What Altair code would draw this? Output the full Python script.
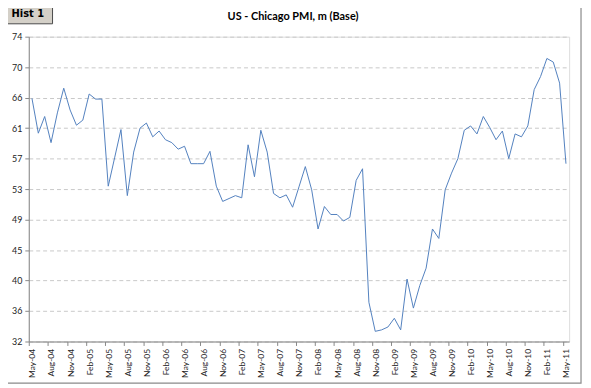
import altair as alt
import pandas as pd

# Monthly Chicago PMI, May 2004 .. May 2011
months = [d.strftime("%b-%y") for d in pd.date_range("2004-05-01", "2011-05-01", freq="MS")]
values = [
    65.5, 60.7, 63.0, 59.4, 63.5, 66.9, 63.9, 61.8, 62.5, 66.1, 65.4, 65.4,   # May04-Apr05
    53.4, 57.3, 61.2, 52.1, 58.1, 61.4, 62.1, 60.2, 61.0, 59.8, 59.4, 58.5,   # May05-Apr06
    58.9, 56.5, 56.5, 56.5, 58.2, 53.4, 51.3, 51.7, 52.1, 51.8, 59.1, 54.7,   # May06-Apr07
    61.1, 58.1, 52.4, 51.8, 52.2, 50.5, 53.3, 56.1, 52.9, 47.5, 50.6, 49.5,   # May07-Apr08
    49.5, 48.6, 49.1, 54.2, 55.8, 37.4, 33.4, 33.6, 34.0, 35.2, 33.6, 40.6,   # May08-Apr09
    36.6, 39.7, 42.1, 47.5, 46.2, 52.9, 55.2, 57.2, 61.1, 61.7, 60.6, 63.0,   # May09-Apr10
    61.5, 59.8, 61.0, 57.2, 60.6, 60.2, 61.7, 66.7, 68.5, 71.0, 70.5, 67.6,   # May10-Apr11
    56.5,                                                                     # May11
]
y_ticks = [32 + 4.2 * k for k in range(11)]
x_ticks = months[::3]
title = "US - Chicago PMI, m (Base)"
tab_label = "Hist 1"

df = pd.DataFrame({"month": months, "value": values})

W, H = 546, 308
FONT = "Lato"

line = alt.Chart(df).mark_line(color="#5281be", strokeWidth=1).encode(
    x=alt.X(
        "month:O",
        sort=None,
        scale=alt.Scale(paddingInner=0, paddingOuter=0),
        axis=alt.Axis(
            values=x_ticks,
            title=None,
            labelAngle=270,
            labelAlign="right",
            labelBaseline="middle",
            labelFont=FONT,
            labelFontSize=8.5,
            labelColor="#222222",
            labelPadding=3,
            tickOffset=-3.2,
            labelOffset=3.2,
            tickSize=4,
            tickColor="#888888",
            domainColor="#888888",
            grid=False,
        ),
    ),
    y=alt.Y(
        "value:Q",
        scale=alt.Scale(domain=[32, 74], nice=False, zero=False),
        axis=alt.Axis(
            values=y_ticks,
            format=".0f",
            title=None,
            labelFont=FONT,
            labelFontSize=9,
            labelColor="#222222",
            labelPadding=3,
            tickSize=4,
            tickColor="#888888",
            domainColor="#888888",
            grid=True,
            gridColor="#c8c8c8",
            gridDash=[4, 3],
            gridWidth=1,
        ),
    ),
)

# outer frame
frame = alt.Chart(pd.DataFrame({"a": [0]})).mark_rect(
    fill=None, stroke="#8a8a8a", strokeWidth=1.2
).encode(
    x=alt.value(-27), x2=alt.value(558), y=alt.value(-33), y2=alt.value(350)
)

# tab
tab = alt.Chart(pd.DataFrame({"a": [0]})).mark_rect(
    fill="#d4d0c8", stroke="#4a4a4a", strokeWidth=1
).encode(
    x=alt.value(-27), x2=alt.value(24), y=alt.value(-33), y2=alt.value(-13)
)
tab_text = alt.Chart(pd.DataFrame({"t": [tab_label]})).mark_text(
    font="DejaVu Sans", fontSize=10, fontWeight="bold", color="#000000", baseline="middle", align="center"
).encode(text="t:N", x=alt.value(-1), y=alt.value(-23))

title_text = alt.Chart(pd.DataFrame({"t": [title]})).mark_text(
    font=FONT, fontSize=11, fontWeight="bold", color="#000000", baseline="middle", align="center"
).encode(text="t:N", x=alt.value(267), y=alt.value(-20))

chart = (
    alt.layer(frame, line, tab, tab_text, title_text)
    .properties(
        width=W,
        height=H,
        autosize=alt.AutoSizeParams(type="none"),
        padding={"left": 21, "top": 27, "right": 14, "bottom": 43},
    )
    .configure_view(stroke=None)
    .configure(background="white")
)

chart.save("out.html", embed_options={"renderer": "svg", "actions": False})
